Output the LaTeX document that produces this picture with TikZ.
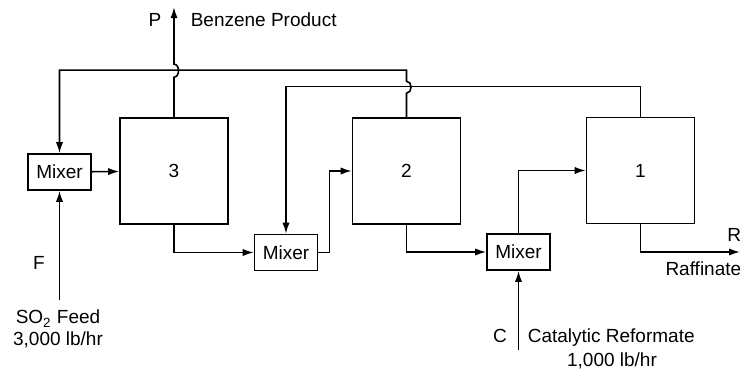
\documentclass[tikz,border=0pt]{standalone}
\usepackage{fontspec}
\setmainfont{Liberation Sans}
\usetikzlibrary{arrows.meta,positioning}

\begin{document}
\begin{tikzpicture}[x=0.5pt, y=-0.5pt, font=\fontsize{9.5}{11}\selectfont, line width=0.8pt, mixer/.style={draw, inner sep=0pt, minimum width=31.5pt, minimum height=18pt}, stage/.style={draw, inner sep=0pt, minimum width=54pt, minimum height=53pt}, arr/.style={-{Latex[length=5.5pt,width=3.6pt]}}, lbl/.style={inner sep=0pt}]
\useasboundingbox (0,0) rectangle (748,378);
% extraction stages and mixers
\node[mixer] (mixF) at (59.5,172) {Mixer};
\node[stage] (st3) at (174,171) {3};
\node[mixer] (mix2) at (286,252.5) {Mixer};
\node[stage] (st2) at (406.5,171) {2};
\node[mixer] (mix3) at (518.5,252) {Mixer};
\node[stage] (st1) at (640.5,170.5) {1};
% feeds and outlet
\coordinate (feedF) at (59.5,300);
\coordinate (feedC) at (518.5,350);
\coordinate (raff) at (740,252);
\draw[arr] (feedF) -- (mixF.south);
\draw[arr] (feedC) -- (mix3.south);
\draw[arr] (mixF) -- (st3);
\draw[arr] (st3.south) |- (mix2.west);
\draw[arr] (mix2.east) -- ++(11,0) |- (st2.west);
\draw[arr] (st2.south) |- (mix3.west);
\draw[arr] (mix3.north) |- (st1.west);
\draw[arr] (st1.south) |- (raff);
% overhead streams
\draw[arr] (st3.north) -- ++(0,-40) .. controls +(6,0) and +(6,0) .. ++(0,-13) -- ++(0,-57) coordinate (prod);
\draw[arr] (st2.north) -- ++(0,-24) .. controls +(6,0) and +(6,0) .. ++(0,-12) -- ++(0,-11) -| (mixF.north);
\draw[arr] (st1.north) -- ++(0,-30) -| (mix2.north);
% labels
\node[lbl, anchor=base] (labP) at (155,27) {P};
\node[lbl, anchor=base west] (labBenz) at (190,27) {Benzene Product};
\node[lbl, anchor=base] (labF) at (39,270) {F};
\node[lbl, anchor=base] (labSO) at (58,324) {SO\textsubscript{2} Feed};
\node[lbl, anchor=base] (labSOr) at (58,346) {3,000 lb/hr};
\node[lbl, anchor=base] (labC) at (500,343) {C};
\node[lbl, anchor=base west] (labCat) at (527,343) {Catalytic Reformate};
\node[lbl, anchor=base] (labCatr) at (612,366) {1,000 lb/hr};
\node[lbl, anchor=base east] (labR) at (742,242) {R};
\node[lbl, anchor=base east] (labRaff) at (742,276) {Raffinate};
\end{tikzpicture}
\end{document}
